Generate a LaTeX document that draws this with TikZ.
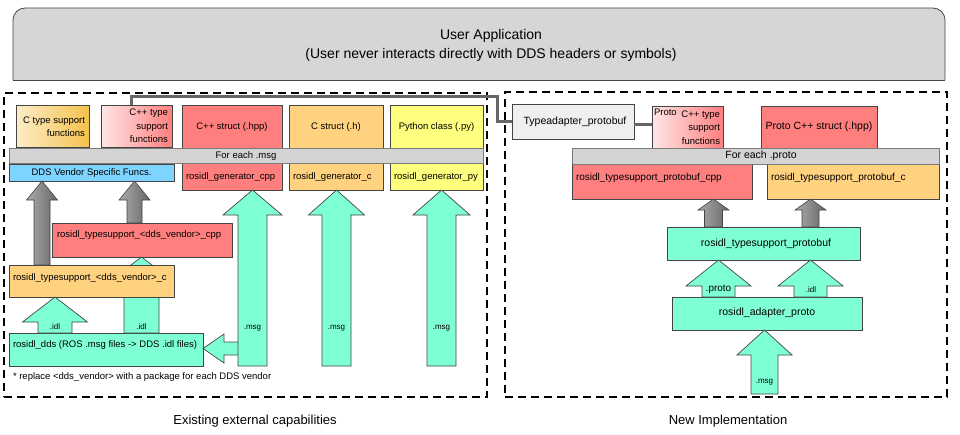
\documentclass[tikz,border=0pt]{standalone}
\usepackage{fontspec}
\setmainfont{Liberation Sans}
\usetikzlibrary{calc,fit}

\definecolor{boxred}{HTML}{FF7F7F}
\definecolor{boxorange}{HTML}{FFD27F}
\definecolor{boxyellow}{HTML}{FFFF7F}
\definecolor{boxblue}{HTML}{7FD4FF}
\definecolor{boxaqua}{HTML}{7FFFD4}
\definecolor{bargray}{HTML}{D4D4D4}
\definecolor{barEdge}{HTML}{7A7A7A}
\definecolor{edgecol}{HTML}{444444}
\definecolor{uafill}{HTML}{D6D6D6}
\definecolor{tafill}{HTML}{EFEFEF}
\definecolor{ctsL}{HTML}{FCECC8}
\definecolor{ctsR}{HTML}{F6C24E}
\definecolor{cppL}{HTML}{FFE6E6}
\definecolor{cppR}{HTML}{FF7F7F}
\definecolor{garL}{HTML}{ABABAB}
\definecolor{garR}{HTML}{666666}
\definecolor{connc}{HTML}{666666}

% block arrow pointing up: [style]{x}{tip}{base}{shaft half width}{head half width}{head length}
\newcommand{\blockup}[7][]{%
  \draw[#1] let \p1=(#3), \p2=(#4) in
    (#2pt,\y1) -- (#2pt+#6pt,\y1-#7pt) -- (#2pt+#5pt,\y1-#7pt) -- (#2pt+#5pt,\y2)
    -- (#2pt-#5pt,\y2) -- (#2pt-#5pt,\y1-#7pt) -- (#2pt-#6pt,\y1-#7pt) -- cycle;}
% block arrow pointing left: [style]{y}{tip}{base}{shaft half width}{head half width}{head length}
\newcommand{\blockleft}[7][]{%
  \draw[#1] let \p1=(#3), \p2=(#4) in
    (\x1,-#2pt) -- (\x1+#7pt,-#2pt+#6pt) -- (\x1+#7pt,-#2pt+#5pt) -- (\x2,-#2pt+#5pt)
    -- (\x2,-#2pt-#5pt) -- (\x1+#7pt,-#2pt-#5pt) -- (\x1+#7pt,-#2pt-#6pt) -- cycle;}

\begin{document}
\begin{tikzpicture}[x=1pt,y=-1pt,
  every node/.style={inner sep=0pt,outer sep=0pt},
  cbox/.style={draw=edgecol,line width=0.7pt,inner sep=0pt},
  barbox/.style={draw=barEdge,fill=bargray,line width=0.7pt,inner sep=0pt},
  dashbox/.style={draw=black,line width=1.8pt,dash pattern=on 8pt off 5pt,inner sep=0pt},
  txtL/.style={font=\fontsize{9.5}{13.5}\selectfont,text height=7pt,text depth=2pt},
  txtM/.style={font=\fontsize{9.5}{13.5}\selectfont},
  txtR/.style={font=\fontsize{10.5}{13}\selectfont,text height=7.5pt,text depth=2pt},
  txtR2/.style={font=\fontsize{10}{13}\selectfont,text height=7.5pt,text depth=2pt},
  txtB/.style={font=\fontsize{13}{15}\selectfont,text height=9pt,text depth=3pt},
  lbl/.style={font=\fontsize{8}{10}\selectfont,text height=6pt,text depth=1.5pt},
  aqarrow/.style={fill=boxaqua,draw=edgecol,line width=0.7pt},
  grayarrow/.style={left color=garL,right color=garR,draw=edgecol,line width=0.6pt},
  connline/.style={draw=connc,line width=3pt}]
\useasboundingbox (0,0) rectangle (960,434);

% ---------------- User application ----------------
\node[fit={(13,8) (945,80)}] (ua) {};
\fill[uafill,rounded corners=12pt] (ua.south west) rectangle (ua.north east);
\fill[uafill] (ua.south west) rectangle (ua.east);
\draw[edgecol,line width=0.8pt,rounded corners=12pt] (ua.south west) -- (ua.north west) -- (ua.north east) -- (ua.south east);
\draw[edgecol,line width=0.8pt] (ua.south west) -- (ua.south east);
\node[font=\fontsize{14}{18}\selectfont] (uat1) at (491,36) {User Application};
\node[font=\fontsize{14}{18}\selectfont] (uat2) at (491,55) {(User never interacts directly with DDS headers or symbols)};

% ---------------- Left panel ----------------
\node[dashbox,fit={(4,93) (487,397)}] (lp) {};

\node[cbox,left color=ctsL,right color=ctsR,fit={(16,105) (89,147)}] (cts) {};
\node[txtM,align=right,anchor=east] (ctst) at (85,126.5) {C type support\\functions};
\node[cbox,left color=cppL,right color=cppR,fit={(101,105) (172,147)}] (cpts) {};
\node[txtM,align=right,anchor=east] (cptst) at (168,126) {C++ type\\support\\functions};
\node[cbox,fill=boxred,fit={(182,105) (282,190)}] (cpps) {};
\node[txtL] (cppst) at (232,127) {C++ struct (.hpp)};
\node[txtL,anchor=west] (cppgt) at (186,177) {rosidl\_generator\_cpp};
\node[cbox,fill=boxorange,fit={(289,105) (383,190)}] (cs) {};
\node[txtL] (cst) at (336,127) {C struct (.h)};
\node[txtL,anchor=west] (cgt) at (293,177) {rosidl\_generator\_c};
\node[cbox,fill=boxyellow,fit={(390,105) (483,190)}] (py) {};
\node[txtL] (pyt) at (436.5,127) {Python class (.py)};
\node[txtL,anchor=west] (pygt) at (394,177) {rosidl\_generator\_py};
\node[barbox,fit={(9,148) (483,163)}] (msgbar) {};
\node[txtL] (msgbart) at (246,156) {For each .msg};
\node[cbox,fill=boxblue,fit={(9,164) (174,181)}] (vendor) {};
\node[txtL] (vendort) at (91.5,173) {DDS Vendor Specific Funcs.};

\node[cbox,fill=boxaqua,fit={(9,333) (203,366)}] (dds) {};
\node[txtL,anchor=west] (ddst) at (13,345) {rosidl\_dds (ROS .msg files -> DDS .idl files)};
\node[cbox,fill=boxred,fit={(52,223) (232,257)}] (tscpp) {};
\node[txtL,anchor=west] (tscppt) at (57,235) {rosidl\_typesupport\_<dds\_vendor>\_cpp};

% .idl arrow into the cpp type support (head partly behind the C box)
\blockup[aqarrow]{141.5}{tscpp.south}{dds.north}{17.5}{33}{25}

\node[cbox,fill=boxorange,fit={(9,265) (174,297)}] (tsc) {};
\node[txtL,anchor=west] (tsct) at (13,277.5) {rosidl\_typesupport\_<dds\_vendor>\_c};

% gray arrows to vendor funcs
\blockup[grayarrow]{42}{vendor.south}{tsc.north}{8}{15.5}{19}
\blockup[grayarrow]{134.5}{vendor.south}{tscpp.north}{7.5}{15.5}{19}

% .idl arrow into C type support
\blockup[aqarrow]{55}{tsc.south}{dds.north}{17}{32.5}{25}

% .msg arrows
\coordinate (branchbase) at (242,348.5);
\blockleft[aqarrow]{348.5}{dds.east}{branchbase}{6.5}{14.5}{21}
\blockup[aqarrow]{252.5}{cpps.south}{dds.south}{14.5}{29.5}{25}
\blockup[aqarrow]{336.5}{cs.south}{dds.south}{14.5}{28}{25}
\blockup[aqarrow]{441.5}{py.south}{dds.south}{14.5}{28.5}{25}

\node[lbl] (lidl1) at (55,327) {.idl};
\node[lbl] (lidl2) at (141.5,327) {.idl};
\node[lbl] (lmsg1) at (252.5,327) {.msg};
\node[lbl] (lmsg2) at (336.5,327) {.msg};
\node[lbl] (lmsg3) at (441.5,327) {.msg};

\node[txtL,anchor=west] (fn) at (13,377) {* replace <dds\_vendor> with a package for each DDS vendor};

% ---------------- Right panel ----------------
\node[dashbox,fit={(505,92) (947,397)}] (rp) {};
\node[cbox,fill=tafill,fit={(512,104) (634,139)}] (ta) {};
\node[txtR] (tat) at (575,121.5) {Typeadapter\_protobuf};

\node[cbox,fill=boxred,fit={(761,106) (877,150)}] (pstruct) {};
\node[txtR] (pstructt) at (819,127) {Proto C++ struct (.hpp)};
\node[cbox,left color=cppL,right color=cppR,fit={(652,106) (723,148)}] (pcts) {};
\node[txtL,anchor=west] (pctsp) at (654,113) {Proto};
\node[txtM,align=right,anchor=east] (pctst) at (720,127.5) {C++ type\\support\\functions};

\node[cbox,fill=boxred,fit={(572,150) (752,199)}] (pbcpp) {};
\node[txtR2,anchor=west] (pbcppt) at (576,178) {rosidl\_typesupport\_protobuf\_cpp};
\node[cbox,fill=boxorange,fit={(767,150) (939,199)}] (pbc) {};
\node[txtR2,anchor=west] (pbct) at (771,178) {rosidl\_typesupport\_protobuf\_c};
\node[barbox,fit={(572,148) (939,164)}] (protobar) {};
\node[txtR] (protobart) at (761,156) {For each .proto};

\node[cbox,fill=boxaqua,fit={(667,227) (860,260)}] (pb) {};
\node[txtR] (pbt) at (766,243.5) {rosidl\_typesupport\_protobuf};
\node[cbox,fill=boxaqua,fit={(672,297) (862,330)}] (adp) {};
\node[txtR] (adpt) at (767,313) {rosidl\_adapter\_proto};
\coordinate (msgsrc) at (764.5,394);

\blockup[grayarrow]{713.5}{pbcpp.south}{pb.north}{9}{15.5}{11}
\blockup[grayarrow]{810.5}{pbc.south}{pb.north}{8.5}{15.5}{11}
\blockup[aqarrow]{718.5}{pb.south}{adp.north}{16.5}{32.5}{26}
\blockup[aqarrow]{810.5}{pb.south}{adp.north}{16.5}{32.5}{26}
\blockup[aqarrow]{764.5}{adp.south}{msgsrc}{13.5}{27.5}{25}

\node[font=\fontsize{10}{12}\selectfont,text height=7pt,text depth=2pt] (lproto) at (718.5,289) {.proto};
\node[lbl] (lidl3) at (811,290.5) {.idl};
\node[lbl] (lmsg4) at (764.5,381) {.msg};

% ---------------- connector ----------------
\coordinate (bend) at (497,96);
\draw[connline] ([xshift=-5.5pt]cpts.north) |- (bend) |- (ta.west);
\draw[connline] ([yshift=-3pt]ta.east) -- ([yshift=-3pt]ta.east -| pcts.west);

% ---------------- captions ----------------
\node[txtB] (lcap) at (255,421) {Existing external capabilities};
\node[txtB] (rcap) at (728,421) {New Implementation};
\end{tikzpicture}
\end{document}
